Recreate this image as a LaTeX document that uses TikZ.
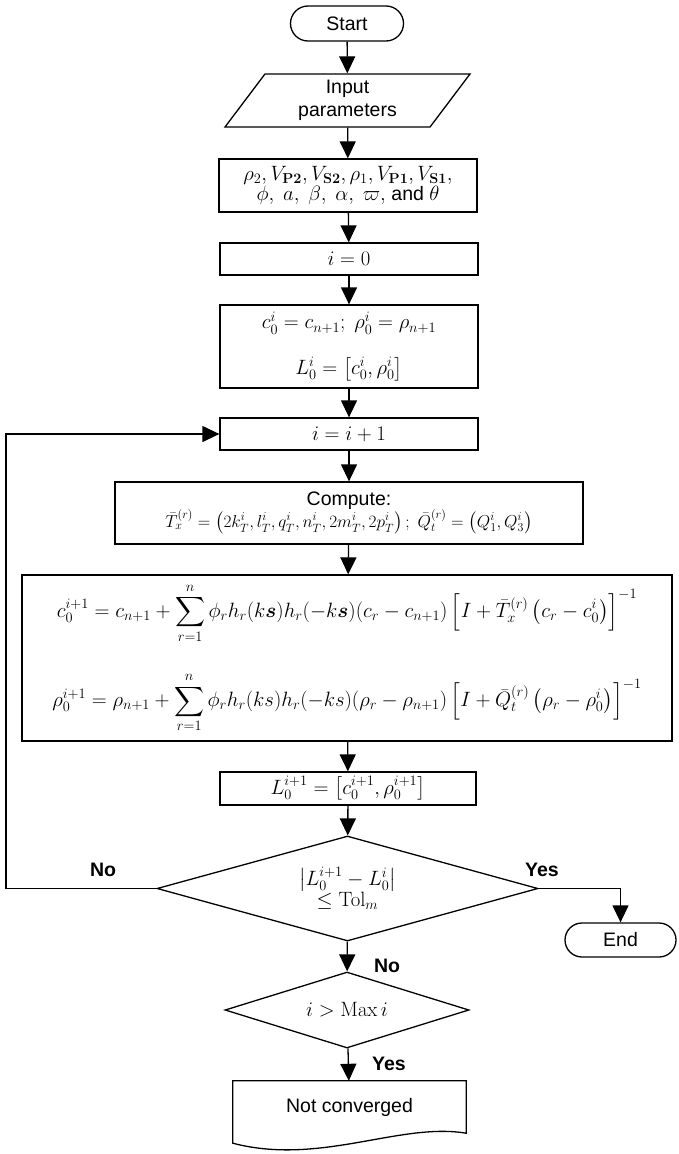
\documentclass[tikz,border=0pt]{standalone}
\usepackage{amsmath,amssymb}
\usepackage[no-math]{fontspec}
\setmainfont{Liberation Sans}
\usetikzlibrary{arrows.meta}
\usetikzlibrary{shapes.geometric}
\usetikzlibrary{shapes.misc}

\begin{document}
\begin{tikzpicture}[x=1pt,y=-1pt]
\tikzset{>={Triangle[width=16pt,length=17pt]}}
\tikzstyle{txt} =[font=\fontsize{19.5}{23.5}\selectfont]
\tikzstyle{box} =[txt,rectangle,draw,line width=1.3pt,inner sep=0pt,align=center]
\tikzstyle{term} =[txt,rounded rectangle,draw,line width=1.3pt,inner sep=0pt]
\tikzstyle{io} =[txt,trapezium,trapezium left angle=45,trapezium right angle=135,trapezium stretches body,draw,line width=1.3pt,inner sep=0pt,align=center]
\tikzstyle{decide} =[txt,diamond,draw,line width=1.3pt,inner sep=0pt,align=center]
\tikzstyle{lab} =[txt,font=\fontsize{19.5}{23.5}\selectfont\bfseries]
\tikzstyle{flow} =[->,line width=1.3pt]

\useasboundingbox (0,0) rectangle (679,1154);

\node[term,minimum width=113pt,minimum height=35pt](start) at (347,23.5){Start};
\node[io,minimum width=245pt,minimum height=53pt](input) at (347.5,100.5){Input\\[-1pt]parameters};
\node[box,minimum width=258pt,minimum height=53pt,font=\fontsize{19.5}{20}\selectfont](params) at (348,185.5)
  {$\rho_2, V_{\mathbf{P2}}, V_{\mathbf{S2}}, \rho_1, V_{\mathbf{P1}}, V_{\mathbf{S1}},$\\
   $\phi,\ a,\ \beta,\ \alpha,\ \varpi,$ and $\theta$};
\node[box,minimum width=258pt,minimum height=32pt](i0) at (349,259){$i = 0$};
\node[box,minimum width=258pt,minimum height=83pt](init) at (349,346.5)
  {$c_0^i = c_{n+1};\ \rho_0^i = \rho_{n+1}$\\[22pt]
   $L_0^i = \left[c_0^i, \rho_0^i\right]$};
\node[box,minimum width=258pt,minimum height=32pt](inc) at (349,434){$i = i + 1$};
\node[box,minimum width=468pt,minimum height=62pt](compute) at (349,513)
  {Compute:\\[-2pt]
   {\fontsize{18.5}{22}\selectfont$\bar{T}_x^{(r)} = \left(2k_T^i, l_T^i, q_T^i, n_T^i, 2m_T^i, 2p_T^i\right);\ \bar{Q}_t^{(r)} = \left(Q_1^i, Q_3^i\right)$}};
\node[box,minimum width=650pt,minimum height=166pt,font=\fontsize{20.8}{25}\selectfont](update) at (347,658)
  {$\displaystyle c_0^{i+1} = c_{n+1} + \sum_{r=1}^{n} \phi_r h_r(k\boldsymbol{s}) h_r(-k\boldsymbol{s})(c_r - c_{n+1})\left[I + \bar{T}_x^{(r)}\left(c_r - c_0^i\right)\right]^{-1}$\\[28pt]
   $\displaystyle \rho_0^{i+1} = \rho_{n+1} + \sum_{r=1}^{n} \phi_r h_r(ks) h_r(-ks)(\rho_r - \rho_{n+1})\left[I + \bar{Q}_t^{(r)}\left(\rho_r - \rho_0^i\right)\right]^{-1}$};
\node[box,minimum width=256pt,minimum height=33pt](newL) at (348,788.5){$L_0^{i+1} = \left[c_0^{i+1}, \rho_0^{i+1}\right]$};
\node[decide,aspect=3.6,minimum width=381pt,minimum height=105pt](conv) at (347.5,888.5)
  {$\left|L_0^{i+1} - L_0^i\right|$\\[-2pt]$\le \mathrm{Tol}_m$};
\node[term,minimum width=111pt,minimum height=34pt](end) at (620.5,940){End};
\node[decide,aspect=3.2,minimum width=244pt,minimum height=76pt](maxit) at (347,1010){$i > \mathrm{Max}\, i$};
\node[txt,minimum width=233pt,minimum height=52pt,inner sep=0pt](notconv) at (349.5,1107){Not converged};
\draw[line width=1.3pt] (notconv.north west) -- (notconv.north east) -- (notconv.south east)
  .. controls (400,1122) and (320,1166) .. ([yshift=-10pt]notconv.south west) -- cycle;

\node[lab](no1) at (103,870){No};
\node[lab](yes1) at (542,870){Yes};
\node[lab](no2) at (387,966){No};
\node[lab](yes2) at (389,1064){Yes};

\coordinate (back) at (6,660);

\draw[flow] (start) -- (input);
\draw[flow] (input) -- (params);
\draw[flow] (params) -- (i0);
\draw[flow] (i0) -- (init);
\draw[flow] (init) -- (inc);
\draw[flow] (inc) -- (compute);
\draw[flow] (compute) -- (update);
\draw[flow] (update) -- (newL);
\draw[flow] (newL) -- (conv);
\draw[flow] (conv.east) -| (end.north);
\draw[flow] (conv.west) -| (back) |- (inc.west);
\draw[flow] (conv) -- (maxit);
\draw[flow] (maxit) -- (notconv);
\end{tikzpicture}
\end{document}
